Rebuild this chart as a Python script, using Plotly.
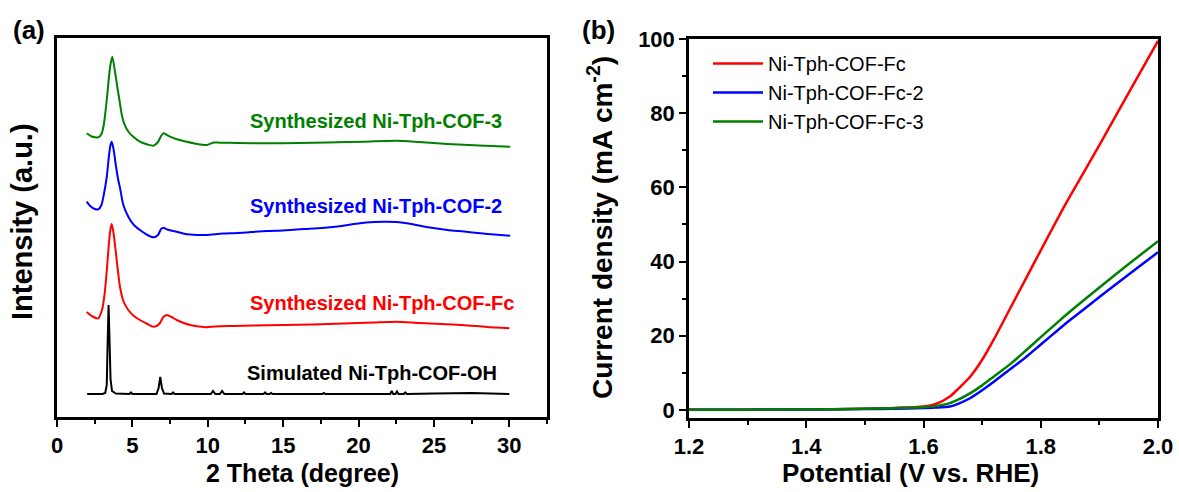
import plotly.graph_objects as go

# ---------------- (a) XRD patterns (intensity in arbitrary, stacked units) ----------------
sim_2theta = [2.0, 3.0, 3.2, 3.3, 3.36, 3.42, 3.48, 3.55, 3.65, 3.9, 4.8, 4.9, 5.0, 6.6, 6.74, 6.85,
              6.96, 7.1, 7.6, 7.7, 7.8, 10.2, 10.35, 10.5, 10.8, 10.95, 11.1, 12.3, 12.4, 12.5, 13.7,
              13.8, 13.9, 14.1, 14.2, 14.3, 17.6, 17.7, 17.8, 22.1, 22.2, 22.3, 22.45, 22.55, 22.65,
              23.0, 23.1, 23.2, 25.0, 27.5, 30.0]
sim_int = [23, 23, 24, 32, 75, 112, 80, 38, 26, 23.5, 23, 24.5, 23, 23, 29, 40,
           29, 23.5, 23, 24.5, 23, 23, 26, 23, 23, 26, 23, 23, 24.5, 23, 23,
           24.5, 23, 23, 24, 23, 23, 24, 23, 23, 26, 23, 23, 25.5, 23,
           23, 24.5, 23, 23.5, 24, 23]

fc_2theta = [1.97, 2.3, 2.74, 3.0, 3.15, 3.3, 3.45, 3.55, 3.63, 3.75, 3.9, 4.05, 4.18, 4.4, 4.73,
             5.1, 5.5, 6.0, 6.39, 6.6, 6.83, 7.05, 7.28, 7.6, 7.94, 8.4, 8.83, 9.4, 9.93, 10.5,
             11.7, 13.0, 15.0, 17.0, 19.0, 21.0, 22.5, 24.0, 25.5, 26.9, 28.5, 30.0]
fc_int = [105, 101, 98.7, 108, 122, 146, 175, 188, 193, 184, 165, 145, 130, 116, 107,
          101, 97, 93, 90.3, 91, 94, 100, 102, 100, 97, 94, 92, 90.5, 89.7, 90.5,
          91, 91.5, 92, 92.5, 93.5, 94.5, 95.3, 94, 93, 92, 90, 88.7]

cof2_2theta = [1.97, 2.2, 2.5, 2.74, 2.95, 3.1, 3.3, 3.45, 3.55, 3.63, 3.75, 3.9, 4.05, 4.18, 4.4,
               4.73, 5.1, 5.5, 6.0, 6.39, 6.7, 6.9, 7.06, 7.3, 7.94, 8.5, 9.3, 9.93, 11.0, 12.0,
               13.9, 15.0, 16.5, 18.3, 19.5, 20.5, 21.65, 22.5, 23.5, 24.5, 25.9, 27.0, 28.1,
               29.0, 30.06]
cof2_int = [215.3, 211, 208, 207.7, 212, 222, 240, 262, 272, 275.3, 268, 252, 238, 229, 212,
            200.3, 192, 187, 182, 179.7, 182, 188, 189.3, 187.5, 185.3, 183, 182, 182, 183.5, 184,
            186, 186.5, 188, 190, 192.5, 194.5, 195.3, 195, 193, 190, 187, 185.5, 183.7,
            182.5, 181.3]

cof3_2theta = [1.97, 2.3, 2.74, 2.95, 3.1, 3.3, 3.52, 3.67, 3.85, 4.0, 4.14, 4.3, 4.45, 4.75, 5.06,
               5.5, 6.0, 6.39, 6.7, 6.9, 7.06, 7.3, 7.5, 8.0, 8.6, 9.3, 9.93, 10.4, 10.8, 12.0,
               13.9, 16.0, 18.0, 20.4, 22.5, 24.0, 25.9, 28.0, 30.06]
cof3_int = [283.7, 280.5, 279.7, 283, 292, 317, 350, 360.3, 345, 330, 317, 302, 293.7, 285, 280.3,
            275.3, 272.5, 271.3, 275, 281, 283.7, 282, 280.3, 277.5, 275.3, 273, 272, 274.5, 274.3, 274,
            273.7, 274, 274.5, 275.3, 276.3, 275, 273, 271.5, 270.3]

xrd_labels = ["Synthesized Ni-Tph-COF-3", "Synthesized Ni-Tph-COF-2",
              "Synthesized Ni-Tph-COF-Fc", "Simulated Ni-Tph-COF-OH"]
xrd_label_x = [12.65, 12.65, 12.65, 12.45]
xrd_label_y = [296, 211, 114, 44]

# ---------------- (b) LSV polarisation curves ----------------
potential = [1.20, 1.30, 1.40, 1.50, 1.55, 1.60, 1.62, 1.645, 1.66, 1.68, 1.70, 1.72, 1.75,
             1.776, 1.80, 1.833, 1.85, 1.90, 1.95, 2.00]
j_fc = [0.0, 0.05, 0.1, 0.3, 0.5, 0.9, 1.5, 3.6, 5.8, 9.0, 13.5, 19.0, 28.0,
        35.8, 43.0, 52.8, 57.6, 71.4, 85.5, 99.5]
j_fc2 = [0.0, 0.05, 0.1, 0.2, 0.3, 0.5, 0.6, 0.9, 1.7, 3.2, 5.3, 7.6, 11.2,
         14.4, 17.6, 22.0, 24.2, 30.4, 36.5, 42.5]
j_fc3 = [0.0, 0.05, 0.1, 0.3, 0.45, 0.7, 1.0, 1.8, 2.8, 4.5, 6.6, 9.0, 12.6,
         16.2, 19.6, 24.2, 26.5, 33.0, 39.3, 45.5]
lsv_names = ["Ni-Tph-COF-Fc", "Ni-Tph-COF-Fc-2", "Ni-Tph-COF-Fc-3"]

RED, BLUE, GREEN, BLACK = "#ff0000", "#0000ff", "#008000", "#000000"
FONT = "Arial, 'Liberation Sans', sans-serif"

W, H = 1179, 492
fig = go.Figure()

# XRD traces
xrd_sets = [(sim_2theta, sim_int, BLACK, "linear"),
            (fc_2theta, fc_int, RED, "spline"),
            (cof2_2theta, cof2_int, BLUE, "spline"),
            (cof3_2theta, cof3_int, GREEN, "spline")]
for xs, ys, col, shape in xrd_sets:
    fig.add_trace(go.Scatter(x=xs, y=ys, mode="lines", xaxis="x", yaxis="y",
                             line=dict(color=col, width=2, shape=shape, smoothing=0.6),
                             showlegend=False, hoverinfo="skip"))

# LSV traces
for ys, col, name in [(j_fc, RED, lsv_names[0]), (j_fc2, BLUE, lsv_names[1]),
                      (j_fc3, GREEN, lsv_names[2])]:
    fig.add_trace(go.Scatter(x=potential, y=ys, mode="lines", xaxis="x2", yaxis="y2",
                             name=name, line=dict(color=col, width=2.5, shape="spline",
                                                  smoothing=0.8),
                             hoverinfo="skip"))

label_colors = [GREEN, BLUE, RED, BLACK]
annotations = []
for txt, x, y, c in zip(xrd_labels, xrd_label_x, xrd_label_y, label_colors):
    annotations.append(dict(text=f"<b>{txt}</b>", x=x, y=y, xref="x", yref="y",
                            xanchor="left", yanchor="middle", showarrow=False,
                            font=dict(family=FONT, size=20, color=c)))


def px_x(p):
    return p / W


def px_y(p):
    return 1 - p / H


def paper_text(text, x, y, size, angle=0):
    return dict(text=text, x=px_x(x), y=px_y(y), xref="paper", yref="paper",
                xanchor="center", yanchor="middle", textangle=angle, showarrow=False,
                font=dict(family=FONT, size=size, color=BLACK))


# axis titles and panel tags
annotations += [
    paper_text("<b>Intensity (a.u.)</b>", 22, 222, 29, -90),
    paper_text("<b>2 Theta (degree)</b>", 302, 473, 25),
    paper_text("<b>Current density (mA cm<sup>-2</sup>)</b>", 600, 228, 28, -90),
    paper_text("<b>Potential (V vs. RHE)</b>", 910, 473, 26),
    paper_text("<b>(a)</b>", 29, 30, 26),
    paper_text("<b>(b)</b>", 598, 30, 26),
]

axis_common = dict(showline=True, linecolor=BLACK, linewidth=2.5, mirror=True,
                   showgrid=False, zeroline=False, tickwidth=2, automargin=False,
                   tickcolor=BLACK, ticklen=7,
                   tickfont=dict(family=FONT, size=22, color=BLACK, weight="bold"))
minor_common = dict(ticklen=4, tickwidth=1.5, tickcolor=BLACK, ticks="outside")

fig.update_layout(
    width=W, height=H,
    margin=dict(l=0, r=0, t=0, b=0, autoexpand=False),
    paper_bgcolor="white", plot_bgcolor="white",
    font=dict(family=FONT, color=BLACK),
    xaxis=dict(domain=[px_x(57), px_x(547)], anchor="y", range=[0, 32.5], dtick=5, tick0=0,
               ticks="outside", minor=dict(dtick=2.5, **minor_common), **axis_common),
    yaxis=dict(domain=[px_y(417), px_y(38)], anchor="x", range=[0, 379],
               showticklabels=False, ticks="", **axis_common),
    xaxis2=dict(domain=[px_x(689), px_x(1158)], anchor="y2", range=[1.2, 2.0], dtick=0.2,
                tick0=1.2, tickformat=".1f", ticks="outside",
                minor=dict(dtick=0.1, **minor_common), **axis_common),
    yaxis2=dict(domain=[px_y(418), px_y(39)], anchor="x2", range=[-2.2, 100], dtick=20, tick0=0,
                ticks="outside", minor=dict(dtick=10, **minor_common), **axis_common),
    legend=dict(x=px_x(708), y=px_y(44), xanchor="left", yanchor="top",
                bgcolor="rgba(0,0,0,0)", borderwidth=0, tracegroupgap=0, itemwidth=50,
                font=dict(family=FONT, size=20, color=BLACK)),
    annotations=annotations,
)

fig.write_html("out.html")
